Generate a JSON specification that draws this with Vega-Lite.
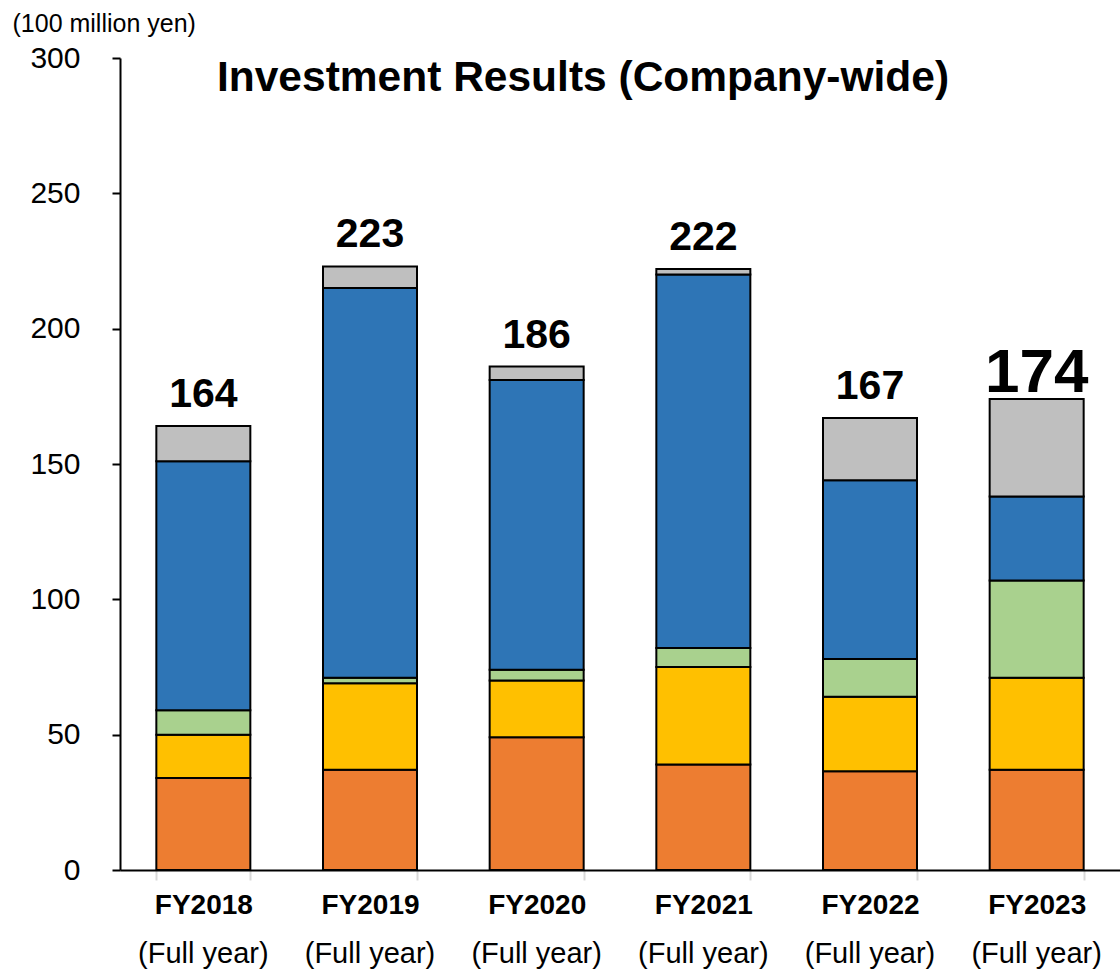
{
  "$schema": "https://vega.github.io/schema/vega-lite/v6.json",
  "width": 1000,
  "height": 812,
  "autosize": {"type": "none"},
  "padding": {"left": 120, "top": 58, "right": 0, "bottom": 99},
  "background": "white",
  "config": {"view": {"stroke": null}, "font": "Liberation Sans"},
  "title": {
    "text": "Investment Results (Company-wide)",
    "fontSize": 42.5,
    "fontWeight": "bold",
    "font": "Liberation Sans",
    "color": "black",
    "anchor": "middle",
    "frame": "group",
    "dx": -37,
    "orient": "top",
    "baseline": "alphabetic",
    "offset": -122
  },
  "datasets": {
    "bars": [
      {"year": "FY2018", "segment": "S1", "value": 34},
      {"year": "FY2018", "segment": "S2", "value": 16},
      {"year": "FY2018", "segment": "S3", "value": 9},
      {"year": "FY2018", "segment": "S4", "value": 92},
      {"year": "FY2018", "segment": "S5", "value": 13},
      {"year": "FY2019", "segment": "S1", "value": 37},
      {"year": "FY2019", "segment": "S2", "value": 32},
      {"year": "FY2019", "segment": "S3", "value": 2},
      {"year": "FY2019", "segment": "S4", "value": 144},
      {"year": "FY2019", "segment": "S5", "value": 8},
      {"year": "FY2020", "segment": "S1", "value": 49},
      {"year": "FY2020", "segment": "S2", "value": 21},
      {"year": "FY2020", "segment": "S3", "value": 4},
      {"year": "FY2020", "segment": "S4", "value": 107},
      {"year": "FY2020", "segment": "S5", "value": 5},
      {"year": "FY2021", "segment": "S1", "value": 39},
      {"year": "FY2021", "segment": "S2", "value": 36},
      {"year": "FY2021", "segment": "S3", "value": 7},
      {"year": "FY2021", "segment": "S4", "value": 138},
      {"year": "FY2021", "segment": "S5", "value": 2},
      {"year": "FY2022", "segment": "S1", "value": 36.5},
      {"year": "FY2022", "segment": "S2", "value": 27.5},
      {"year": "FY2022", "segment": "S3", "value": 14},
      {"year": "FY2022", "segment": "S4", "value": 66},
      {"year": "FY2022", "segment": "S5", "value": 23},
      {"year": "FY2023", "segment": "S1", "value": 37},
      {"year": "FY2023", "segment": "S2", "value": 34},
      {"year": "FY2023", "segment": "S3", "value": 36},
      {"year": "FY2023", "segment": "S4", "value": 31},
      {"year": "FY2023", "segment": "S5", "value": 36}
    ],
    "totals": [
      {"year": "FY2018", "total": 164},
      {"year": "FY2019", "total": 223},
      {"year": "FY2020", "total": 186},
      {"year": "FY2021", "total": 222},
      {"year": "FY2022", "total": 167},
      {"year": "FY2023", "total": 174}
    ]
  },
  "layer": [
    {
      "data": {"name": "bars"},
      "mark": {"type": "bar", "stroke": "black", "strokeWidth": 2},
      "encoding": {
        "x": {
          "field": "year",
          "type": "nominal",
          "sort": null,
          "scale": {"paddingInner": 0.436, "paddingOuter": 0.218},
          "axis": {
            "title": null,
            "orient": "bottom",
            "labelFontSize": 28,
            "labelFontWeight": "bold",
            "labelFont": "Liberation Sans",
            "labelColor": "black",
            "labelAngle": 0,
            "labelBaseline": "middle",
            "labelPadding": 25,
            "labelOverlap": false,
            "tickBand": "extent",
            "tickColor": "#D9D9D9",
            "tickWidth": 2,
            "tickSize": 10,
            "domainColor": "black",
            "domainWidth": 2
          }
        },
        "y": {
          "field": "value",
          "type": "quantitative",
          "stack": "zero",
          "scale": {"domain": [0, 300], "nice": false},
          "axis": {
            "title": "(100 million yen)",
            "titleAngle": 0,
            "titleX": -108,
            "titleY": -27,
            "titleAlign": "left",
            "titleBaseline": "alphabetic",
            "titleFontSize": 25,
            "titleFontWeight": "normal",
            "titleFont": "Liberation Sans",
            "titleColor": "black",
            "values": [0, 50, 100, 150, 200, 250, 300],
            "labelFontSize": 30,
            "labelFont": "Liberation Sans",
            "labelColor": "black",
            "labelPadding": 32,
            "tickSize": 8,
            "tickColor": "black",
            "tickWidth": 2,
            "domainColor": "black",
            "domainWidth": 2,
            "grid": false
          }
        },
        "color": {
          "field": "segment",
          "type": "nominal",
          "scale": {
            "domain": ["S1", "S2", "S3", "S4", "S5"],
            "range": ["#ED7D31", "#FFC000", "#A9D18E", "#2E75B6", "#BFBFBF"]
          },
          "legend": null
        },
        "order": {"field": "segment", "sort": "ascending"}
      }
    },
    {
      "data": {"name": "totals"},
      "transform": [{"filter": "datum.year !== 'FY2023'"}],
      "mark": {"type": "text", "fontSize": 41, "fontWeight": "bold", "font": "Liberation Sans", "baseline": "alphabetic", "dy": -19, "color": "black"},
      "encoding": {
        "x": {"field": "year", "type": "nominal", "sort": null, "axis": null},
        "y": {"field": "total", "type": "quantitative", "axis": null},
        "text": {"field": "total", "type": "quantitative"}
      }
    },
    {
      "data": {"name": "totals"},
      "transform": [{"filter": "datum.year === 'FY2023'"}],
      "mark": {"type": "text", "fontSize": 62, "fontWeight": "bold", "font": "Liberation Sans", "baseline": "alphabetic", "dy": -7, "color": "black"},
      "encoding": {
        "x": {
          "field": "year",
          "type": "nominal",
          "sort": null,
          "axis": {
            "title": null,
            "orient": "bottom",
            "labelExpr": "'(Full year)'",
            "labelFontSize": 29,
            "labelFontWeight": "normal",
            "labelFont": "Liberation Sans",
            "labelColor": "black",
            "labelAngle": 0,
            "labelBaseline": "middle",
            "labelPadding": 83,
            "labelOverlap": false,
            "ticks": false,
            "domain": false,
            "grid": false
          }
        },
        "y": {"field": "total", "type": "quantitative", "axis": null},
        "text": {"field": "total", "type": "quantitative"}
      }
    }
  ],
  "resolve": {"axis": {"x": "independent", "y": "independent"}}
}
